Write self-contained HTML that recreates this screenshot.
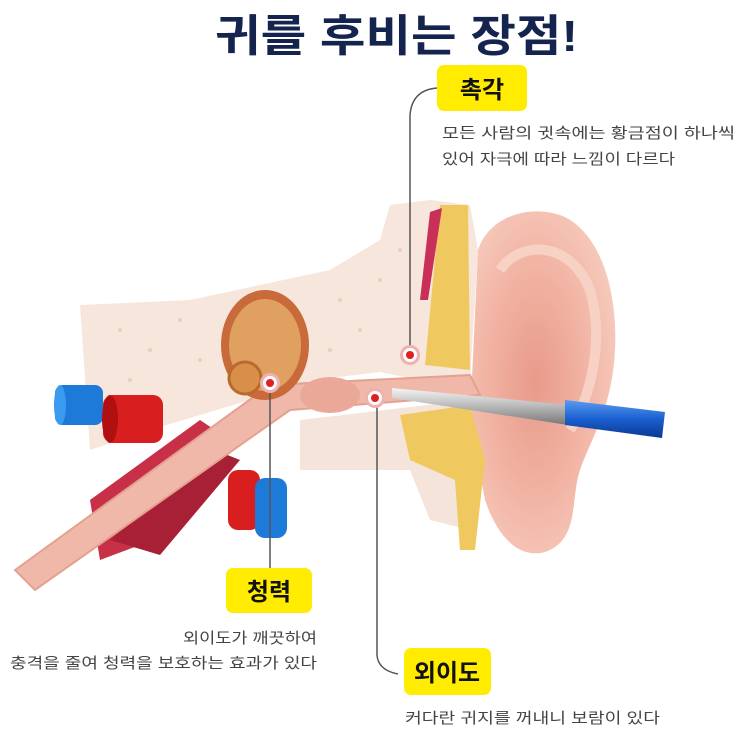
<!DOCTYPE html>
<html><head><meta charset="utf-8"><style>
html,body{margin:0;padding:0;background:#fff;}
svg{display:block;}
text{font-family:"Liberation Sans","Noto Sans CJK KR",sans-serif;}
</style></head><body>
<svg width="750" height="750" viewBox="0 0 750 750" xmlns="http://www.w3.org/2000/svg">
<defs>
<linearGradient id="pen" x1="0" y1="0" x2="0" y2="1"><stop offset="0" stop-color="#5a9cf0"/><stop offset="0.5" stop-color="#1a5fd0"/><stop offset="1" stop-color="#0a3a90"/></linearGradient>
<linearGradient id="sil" x1="0" y1="0" x2="0" y2="1"><stop offset="0" stop-color="#f4f4f4"/><stop offset="0.5" stop-color="#b8b8b8"/><stop offset="1" stop-color="#777"/></linearGradient>
<radialGradient id="earg" cx="0.45" cy="0.5" r="0.6"><stop offset="0" stop-color="#e89a8a"/><stop offset="0.6" stop-color="#f2b5a5"/><stop offset="1" stop-color="#f6cbbd"/></radialGradient>
</defs>
<text x="215" y="51" font-size="44" font-weight="bold" fill="#14244f" textLength="363" lengthAdjust="spacingAndGlyphs">귀를 후비는 장점!</text>

<path d="M478,250 C490,215 530,205 560,215 C600,230 618,290 615,350 C612,410 590,440 580,470 C570,500 580,540 545,552 C515,560 495,530 485,500 L470,420 Z" fill="url(#earg)"/>
<path d="M500,270 C520,240 570,240 590,290 C605,340 590,400 570,430" fill="none" stroke="#f7d2c4" stroke-width="10"/>
<path d="M80,305 L190,300 L260,285 L330,270 L380,240 L390,205 L430,200 L470,205 L478,250 L470,380 L420,380 L380,372 L330,378 L300,385 L250,400 L150,430 L90,450 Z" fill="#f6e6dc"/>
<g fill="#e6cfc2"><circle cx="120" cy="330" r="2"/><circle cx="150" cy="350" r="2"/><circle cx="180" cy="320" r="2"/><circle cx="200" cy="360" r="2"/><circle cx="340" cy="300" r="2"/><circle cx="360" cy="330" r="2"/><circle cx="380" cy="280" r="2"/><circle cx="330" cy="350" r="2"/><circle cx="400" cy="250" r="2"/><circle cx="130" cy="380" r="2"/></g>
<path d="M300,420 L470,400 L480,470 L470,530 L430,520 L410,470 L300,470 Z" fill="#f5e4da"/>
<path d="M440,205 L468,205 L470,370 L425,365 Z" fill="#f0c860"/>
<path d="M430,212 L442,208 L428,300 L420,300 Z" fill="#c8305a"/>
<path d="M400,415 L470,405 L485,460 L475,550 L460,550 L455,480 L410,460 Z" fill="#f0c860"/>
<rect x="55" y="385" width="48" height="40" rx="8" fill="#1e7ad8"/>
<ellipse cx="60" cy="405" rx="6" ry="20" fill="#3a9af0"/>
<rect x="103" y="395" width="60" height="48" rx="10" fill="#d81e1e"/>
<ellipse cx="110" cy="419" rx="8" ry="24" fill="#b01010"/>
<path d="M90,500 L200,420 L230,440 L140,545 L100,560 Z" fill="#c83048"/>
<path d="M110,540 L215,450 L240,460 L160,555 Z" fill="#a82035"/>
<rect x="228" y="470" width="32" height="60" rx="10" fill="#d81e1e"/>
<rect x="255" y="478" width="32" height="60" rx="10" fill="#1e7ad8"/>
<path d="M15,570 L270,385 L470,375 L480,395 L290,410 L35,590 Z" fill="#f0b8a8" stroke="#e4a090" stroke-width="2"/>
<ellipse cx="265" cy="345" rx="44" ry="55" fill="#c86a3a"/>
<ellipse cx="265" cy="345" rx="36" ry="46" fill="#e0a060"/>
<circle cx="245" cy="378" r="16" fill="#d89048" stroke="#b86a30" stroke-width="3"/>
<ellipse cx="330" cy="395" rx="30" ry="18" fill="#eaa898"/>
<path d="M392,388 L570,405 L568,425 L392,398 Z" fill="url(#sil)"/>
<path d="M565,400 L665,412 L662,438 L565,425 Z" fill="url(#pen)"/>
<g fill="none" stroke="#555" stroke-width="1.5">
<path d="M437,88 Q412,90 410,115 L410,350"/>
<path d="M270,390 L270,568"/>
<path d="M377,402 L377,655 Q378,670 398,674"/>
</g>
<g>
<circle cx="410" cy="355" r="10" fill="#f0b0b0"/><circle cx="410" cy="355" r="7" fill="#fff"/><circle cx="410" cy="355" r="4" fill="#e02020"/>
<circle cx="270" cy="383" r="10" fill="#f0b0b0"/><circle cx="270" cy="383" r="7" fill="#fff"/><circle cx="270" cy="383" r="4" fill="#e02020"/>
<circle cx="375" cy="398" r="10" fill="#f0b0b0"/><circle cx="375" cy="398" r="7" fill="#fff"/><circle cx="375" cy="398" r="4" fill="#e02020"/>
</g>
<rect x="437" y="65" width="90" height="46" rx="7" fill="#ffec00"/>
<text x="482" y="98" font-size="24" font-weight="bold" fill="#111" text-anchor="middle">촉각</text>
<text x="442" y="138" font-size="15" fill="#444" textLength="293" lengthAdjust="spacingAndGlyphs">모든 사람의 귓속에는 황금점이 하나씩</text>
<text x="442" y="164" font-size="15" fill="#444" textLength="233" lengthAdjust="spacingAndGlyphs">있어 자극에 따라 느낌이 다르다</text>

<rect x="226" y="568" width="86" height="45" rx="7" fill="#ffec00"/>
<text x="269" y="600" font-size="24" font-weight="bold" fill="#111" text-anchor="middle">청력</text>
<text x="183" y="643" font-size="15" fill="#444" textLength="134" lengthAdjust="spacingAndGlyphs">외이도가 깨끗하여</text>
<text x="10" y="668" font-size="15" fill="#444" textLength="307" lengthAdjust="spacingAndGlyphs">충격을 줄여 청력을 보호하는 효과가 있다</text>

<rect x="404" y="648" width="87" height="47" rx="7" fill="#ffec00"/>
<text x="447" y="681" font-size="24" font-weight="bold" fill="#111" text-anchor="middle">외이도</text>
<text x="405" y="723" font-size="15" fill="#444" textLength="255" lengthAdjust="spacingAndGlyphs">커다란 귀지를 꺼내니 보람이 있다</text>
</svg>
</body></html>
